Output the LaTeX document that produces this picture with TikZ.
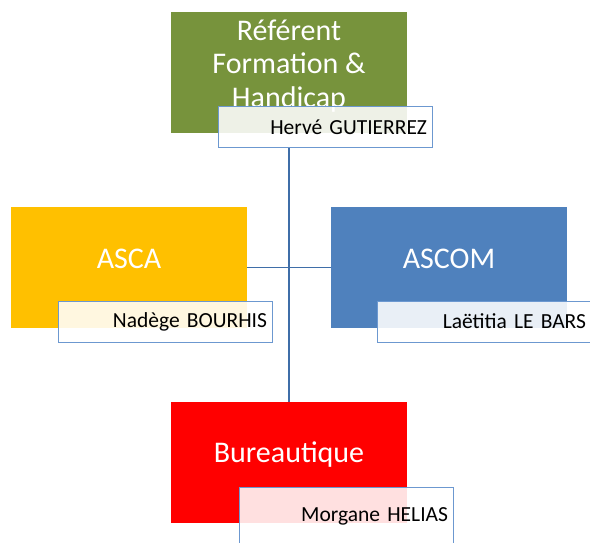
\documentclass[tikz,border=0pt]{standalone}
\usepackage{fontspec}
\setmainfont{Carlito}
\usepackage{tikz}

\definecolor{olive}{RGB}{119,147,60}
\definecolor{gold}{RGB}{255,192,0}
\definecolor{steel}{RGB}{79,129,189}
\definecolor{linkblue}{RGB}{63,110,168}
\definecolor{frameblue}{RGB}{108,152,208}

\tikzstyle{unit} = [rectangle, inner sep=0pt, outer sep=0pt, minimum width=236pt, minimum height=121pt]
\tikzstyle{unittext} = [text=white, align=center, inner sep=0pt, font=\fontsize{30}{33.5}\selectfont]
\tikzstyle{person} = [draw=frameblue, line width=1pt, fill=white, fill opacity=0.88, text opacity=1,
    inner xsep=5pt, inner ysep=0pt, outer sep=0pt, text width=204pt, align=right,
    minimum height=41pt, font=\fontsize{21.5}{25}\selectfont]
\tikzstyle{link} = [draw=linkblue, line width=1.5pt]

\begin{document}
\begin{tikzpicture}[x=1pt, y=-1pt]
            \useasboundingbox (0,0) rectangle (590,542);
            \clip (0,0) rectangle (590,542);

            \node[unit, fill=olive]  (ref)   at (289, 72.5)   {};
            \node[unit, fill=gold]   (asca)  at (129, 267.5)  {};
            \node[unit, fill=steel]  (ascom) at (449, 267.5)  {};
            \node[unit, fill=red]    (bur)   at (289, 462)    {};

            \node[unittext] (ref-t)   at (289, 66)  {Référent\\Formation \&\\Handicap};
            \node[unittext] (asca-t)  at (129, 259) {ASCA};
            \node[unittext] (ascom-t) at (449, 259) {ASCOM};
            \node[unittext] (bur-t)   at (289, 455) {Bureautique};

            \draw[link] (ref.center |- 147,147) -- (bur.north);
            \draw[link] (asca.east) -- (ascom.west);

            \node[person]                    (herve)   at (325, 127)   {Hervé GUTIERREZ};
            \node[person]                    (nadege)  at (165, 321.5) {Nadège BOURHIS};
            \node[person]                    (laetitia) at (484, 321.5) {Laëtitia LE BARS};
            \node[person, minimum height=58pt] (morgane) at (346, 516) {Morgane HELIAS};
        \end{tikzpicture}
\end{document}
